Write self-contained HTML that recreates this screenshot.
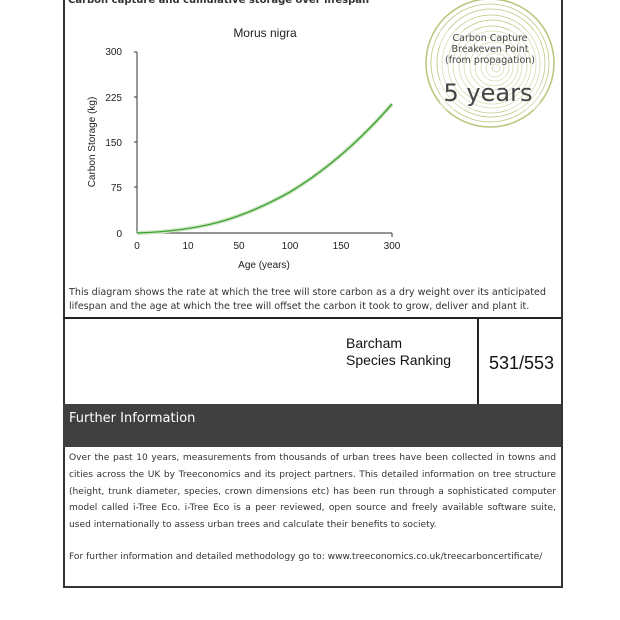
<!DOCTYPE html>
<html><head><style>
body{margin:0;width:620px;height:620px;background:#fff;position:relative;overflow:hidden;font-family:"DejaVu Sans","Liberation Sans",sans-serif}
.a{position:absolute}
.s{font-family:"Liberation Sans",sans-serif}
</style></head><body>
<div class="a" style="left:63px;top:-2px;width:496px;height:588px;border:2px solid #333;border-top:none"></div>
<div class="a" style="left:68px;top:-5px;font-size:10px;font-weight:bold;color:#333">Carbon capture and cumulative storage over lifespan</div>
<svg class="a" style="left:0;top:0" width="620" height="320">
<g fill="none" stroke="#b4bc6c" stroke-width="0.8" opacity="0.85">
<circle cx="490" cy="63" r="64" stroke-width="1.6"/>
<circle cx="490" cy="63" r="59"/><circle cx="491" cy="63" r="54"/><circle cx="491" cy="64" r="49"/><circle cx="492" cy="64" r="44"/><circle cx="492" cy="65" r="39"/><circle cx="493" cy="65" r="34"/><circle cx="493" cy="66" r="29"/><circle cx="494" cy="66" r="24"/><circle cx="494" cy="67" r="19"/><circle cx="495" cy="67" r="14"/><circle cx="495" cy="68" r="9"/><circle cx="496" cy="68" r="4"/>
</g>
<rect x="440" y="30" width="100" height="80" fill="#fff" opacity="0.4"/>
<g font-family="DejaVu Sans,sans-serif" fill="#444" text-anchor="middle" font-size="9.5">
<text x="490" y="41">Carbon Capture</text><text x="490" y="52">Breakeven Point</text><text x="490" y="63">(from propagation)</text>
<text x="488" y="101" font-size="24" fill="#444">5 years</text></g>
<g font-family="Liberation Sans,sans-serif" font-size="10" fill="#222">
<text x="265" y="37" font-size="12" text-anchor="middle">Morus nigra</text>
<g text-anchor="end"><text x="122" y="55">300</text><text x="122" y="101">225</text><text x="122" y="146">150</text><text x="122" y="191">75</text><text x="122" y="237">0</text></g>
<g text-anchor="middle"><text x="137" y="249">0</text><text x="188" y="249">10</text><text x="239" y="249">50</text><text x="290" y="249">100</text><text x="341" y="249">150</text><text x="392" y="249">300</text>
<text x="264" y="268">Age (years)</text></g>
<text transform="translate(95,142) rotate(-90)" text-anchor="middle">Carbon Storage (kg)</text>
</g>
<g stroke="#555" stroke-width="1.2"><line x1="137" y1="52" x2="137" y2="233"/><line x1="137" y1="233" x2="392" y2="233"/>
<line x1="134" y1="52" x2="137" y2="52"/><line x1="134" y1="97" x2="137" y2="97"/><line x1="134" y1="142" x2="137" y2="142"/><line x1="134" y1="187" x2="137" y2="187"/><line x1="392" y1="233" x2="392" y2="237"/></g>
<path d="M137,233 C200,231 240,220 290,192 C330,168 365,135 392,104" fill="none" stroke="#cfe5c0" stroke-width="4"/>
<path d="M137,233 C200,231 240,220 290,192 C330,168 365,135 392,104" fill="none" stroke="#3fa33a" stroke-width="1.4"/>
</svg>
<div class="a" style="left:69px;top:286px;font-size:9.6px;line-height:14px;color:#333;width:490px">This diagram shows the rate at which the tree will store carbon as a dry weight over its anticipated lifespan and the age at which the tree will offset the carbon it took to grow, deliver and plant it.</div>
<div class="a" style="left:63px;top:317px;width:498px;height:2px;background:#222"></div>
<div class="a" style="left:477px;top:317px;width:2px;height:88px;background:#222"></div>
<div class="a s" style="left:346px;top:335px;font-size:14px;line-height:17px;color:#111">Barcham<br>Species Ranking</div>
<div class="a s" style="left:489px;top:353px;font-size:18px;color:#111">531/553</div>
<div class="a" style="left:63px;top:404px;width:498px;height:43px;background:#404040"></div>
<div class="a" style="left:69px;top:411px;font-size:13px;color:#fff">Further Information</div>
<div class="a" style="left:69px;top:450px;width:487px;font-size:9.1px;line-height:16.8px;color:#333;text-align:justify">Over the past 10 years, measurements from thousands of urban trees have been collected in towns and cities across the UK by Treeconomics and its project partners. This detailed information on tree structure (height, trunk diameter, species, crown dimensions etc) has been run through a sophisticated computer model called i-Tree Eco. i-Tree Eco is a peer reviewed, open source and freely available software suite, used internationally to assess urban trees and calculate their benefits to society.</div>
<div class="a" style="left:69px;top:552px;font-size:9.1px;color:#333">For further information and detailed methodology go to: www.treeconomics.co.uk/treecarboncertificate/</div>
</body></html>
